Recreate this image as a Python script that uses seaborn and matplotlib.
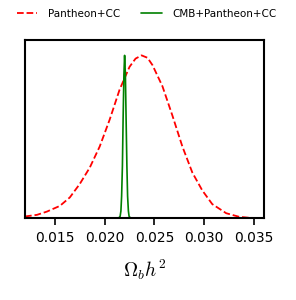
import pandas as pd
import numpy as np
import matplotlib.pyplot as plt
import seaborn as sns

# --- posterior curves (normalised to peak = 1) ---
pcc_x = [0.0120, 0.0132, 0.0142, 0.0155, 0.0165, 0.0175, 0.0185, 0.0195, 0.0205,
         0.0215, 0.0225, 0.0231, 0.0237, 0.0243, 0.0248, 0.0258, 0.0268, 0.0278,
         0.0288, 0.0298, 0.0308, 0.0322, 0.0335, 0.0345, 0.0355, 0.0360]
pcc_y = [0.010, 0.020, 0.040, 0.075, 0.127, 0.210, 0.310, 0.440, 0.605,
         0.790, 0.930, 0.980, 1.000, 0.985, 0.940, 0.810, 0.630, 0.440,
         0.280, 0.170, 0.086, 0.030, 0.008, 0.002, 0.000, 0.000]

cmb_x = [0.02140, 0.02155, 0.02163, 0.02170, 0.02178, 0.02185, 0.02193, 0.02200,
         0.02208, 0.02215, 0.02223, 0.02230, 0.02238, 0.02245, 0.02260]
cmb_y = [0.000, 0.011, 0.044, 0.135, 0.320, 0.610, 0.880, 1.000,
         0.880, 0.610, 0.320, 0.135, 0.044, 0.011, 0.000]

x_ticks = [0.015, 0.020, 0.025, 0.030, 0.035]

df_pcc = pd.DataFrame({'x': pcc_x, 'y': pcc_y})
df_cmb = pd.DataFrame({'x': cmb_x, 'y': cmb_y})

sns.set_style("ticks")
plt.rcParams['mathtext.fontset'] = 'cm'
plt.rcParams['text.color'] = 'black'
plt.rcParams['axes.labelcolor'] = 'black'
plt.rcParams['xtick.color'] = 'black'

fig = plt.figure(figsize=(2.96, 3.0), dpi=100)
ax = fig.add_axes([0.0845, 0.273, 0.8075, 0.594])

sns.lineplot(data=df_pcc, x='x', y='y', ax=ax, color='red', linestyle='--',
             linewidth=1.3, label='Pantheon+CC')
sns.lineplot(data=df_cmb, x='x', y='y', ax=ax, color='green', linestyle='-',
             linewidth=1.2, label='CMB+Pantheon+CC')

ax.set_xlim(0.012, 0.036)
ax.set_ylim(0, 1.095)
ax.set_xticks(x_ticks)
ax.set_xticklabels([f'{t:.3f}' for t in x_ticks], fontsize=10, color='black')
ax.set_yticks([])
ax.set_ylabel('')
ax.set_xlabel(r'$\Omega_b h^2$', fontsize=14, labelpad=9, color='black')
ax.tick_params(axis='x', direction='out', length=5, width=1.2, color='black', pad=4)
for s in ax.spines.values():
    s.set_visible(True)
    s.set_linewidth(1.5)
    s.set_color('black')

ax.get_legend().remove()
handles, labels = ax.get_legend_handles_labels()
fig.legend(handles, labels, loc='center', bbox_to_anchor=(0.495, 0.953), ncol=2,
           frameon=False, fontsize=7.5, columnspacing=2.0, handletextpad=1.0,
           handlelength=2.0, labelcolor='black')

fig.savefig('out.png', dpi=100)
